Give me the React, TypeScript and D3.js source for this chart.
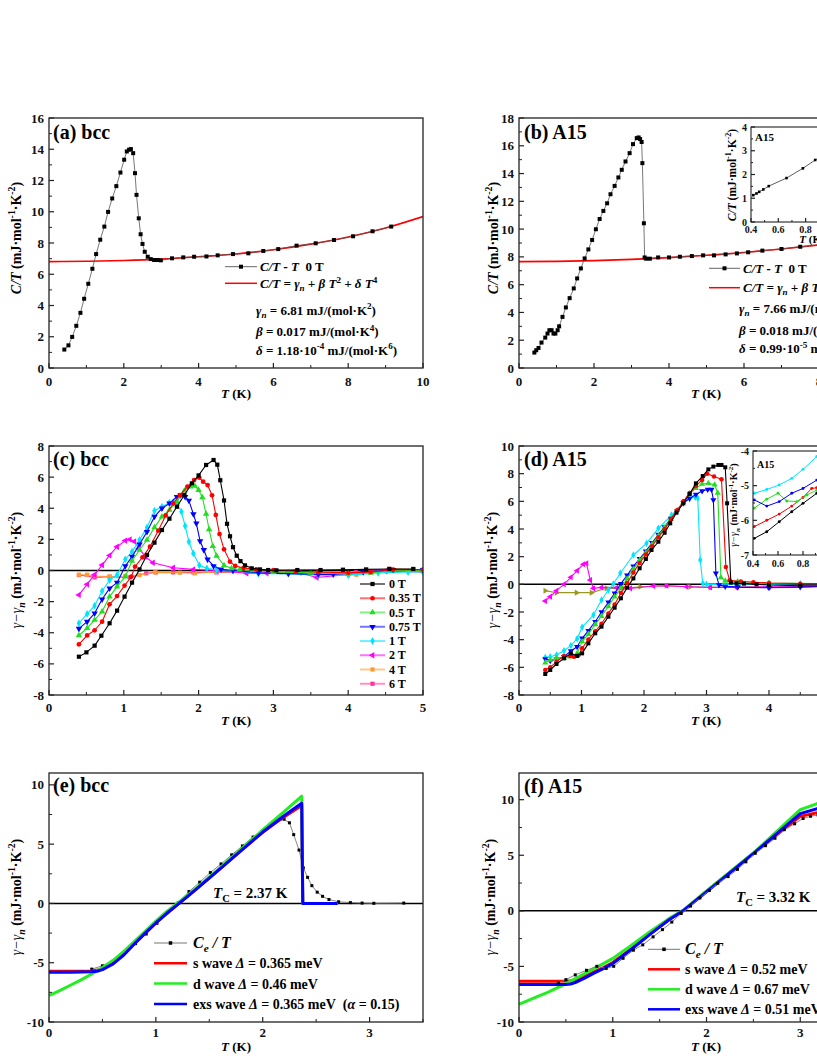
import React from 'react';
import * as d3 from 'd3';

type P = [number, number];

const FONT = '"Liberation Serif", "Times New Roman", serif';
const AX = '#222';

// (a) bcc : C/T vs T at 0 T
const bccCT: P[] = [[0.41,1.18],[0.52,1.45],[0.62,1.99],[0.73,2.70],[0.84,3.53],[0.94,4.43],[1.05,5.39],[1.16,6.35],[1.26,7.29],[1.37,8.21],[1.48,9.05],[1.58,9.99],[1.69,10.85],[1.80,11.64],[1.91,12.51],[2.01,13.33],[2.08,13.86],[2.14,13.97],[2.19,14.01],[2.25,13.75],[2.30,12.47],[2.34,11.08],[2.40,9.58],[2.45,8.56],[2.50,7.94],[2.56,7.44],[2.64,7.12],[2.72,6.97],[2.81,6.91],[2.90,6.91],[2.99,6.89],[3.29,7.02],[3.59,7.08],[3.88,7.12],[4.21,7.14],[4.51,7.21],[4.92,7.29],[5.33,7.34],[5.73,7.49],[6.13,7.61],[6.62,7.83],[7.13,7.98],[7.62,8.19],[8.13,8.43],[8.65,8.75],[9.15,9.05]];
const bccFit: P[] = [[0,6.81],[1,6.83],[2,6.88],[3,6.97],[4,7.12],[5,7.30],[6,7.57],[7,7.93],[8,8.38],[9,8.96],[10,9.69]];

// (b) A15 : C/T vs T at 0 T
const a15CT: P[] = [[0.41,1.11],[0.46,1.28],[0.52,1.44],[0.60,1.83],[0.70,2.19],[0.76,2.48],[0.81,2.72],[0.87,2.72],[0.92,2.48],[0.97,2.48],[1.03,2.72],[1.07,3.0],[1.16,3.68],[1.25,4.36],[1.35,5.03],[1.46,5.73],[1.55,6.45],[1.65,7.17],[1.75,7.89],[1.85,8.54],[1.95,9.22],[2.05,9.99],[2.15,10.73],[2.25,11.31],[2.35,11.86],[2.44,12.51],[2.55,13.11],[2.65,13.72],[2.74,14.27],[2.84,14.87],[2.95,15.47],[3.04,16.12],[3.14,16.55],[3.19,16.6],[3.23,16.48],[3.27,16.27],[3.29,14.75],[3.33,10.42],[3.35,7.96],[3.39,7.87],[3.49,7.87],[3.71,7.96],[4.0,7.96],[4.29,8.01],[4.61,8.06],[4.91,8.11],[5.2,8.11],[5.51,8.18],[5.81,8.25],[6.11,8.33],[6.49,8.45],[7.0,8.57],[7.5,8.73],[8.0,8.86]];
const a15Fit: P[] = [[0,7.66],[1,7.68],[2,7.73],[3,7.82],[4,7.95],[5,8.12],[6,8.32],[7,8.57],[8,8.86],[9,9.18],[10,9.56]];
const a15Inset: P[] = [[0.417,1.13],[0.44,1.2],[0.46,1.27],[0.49,1.37],[0.53,1.51],[0.66,1.85],[0.78,2.26],[0.87,2.61],[0.96,2.9],[1.05,3.2],[1.15,3.52]];

// (c) bcc : gamma - gamma_n in field
const fieldLabels = ['0 T', '0.35 T', '0.5 T', '0.75 T', '1 T', '2 T', '4 T', '6 T'];
const fieldColors = ['#000000', '#ff0000', '#22dd22', '#0000ff', '#00e5ff', '#ff00ff', '#ff9933', '#ff3399'];
const fieldShapes = ['square', 'circle', 'up', 'down', 'diamond', 'left', 'square', 'square'];
const bcc0T: P[] = [[0.40,-5.54],[0.50,-5.26],[0.61,-4.83],[0.70,-4.19],[0.81,-3.39],[0.91,-2.58],[1.01,-1.68],[1.11,-0.78],[1.21,0.07],[1.31,1.0],[1.41,1.79],[1.51,2.60],[1.61,3.33],[1.71,4.10],[1.81,4.85],[1.91,5.60],[2.00,6.11],[2.10,6.78],[2.20,7.10],[2.25,6.8],[2.29,5.8],[2.34,4.5],[2.38,3.0],[2.42,2.2],[2.46,1.5],[2.51,0.95],[2.56,0.6],[2.62,0.33],[2.71,0.14],[2.82,0.07],[2.93,0.03],[3.04,0.01],[3.32,0.03],[3.63,0.03],[3.93,0.05],[4.24,0.07],[4.55,0.10],[4.87,0.10]];
const bcc035T: P[] = [[0.40,-4.74],[0.51,-4.17],[0.61,-3.84],[0.71,-3.29],[0.81,-2.17],[0.91,-1.64],[1.01,-0.97],[1.10,-0.40],[1.15,0.25],[1.25,0.85],[1.35,1.53],[1.46,2.56],[1.56,3.54],[1.66,4.31],[1.75,4.85],[1.85,5.39],[1.94,5.81],[2.01,5.96],[2.06,5.71],[2.12,5.49],[2.18,4.83],[2.23,3.57],[2.28,2.34],[2.34,1.36],[2.42,0.57],[2.49,0.29],[2.60,0.16],[2.77,0.07],[3.0,0.03],[3.3,-0.05],[3.6,-0.1],[4.0,-0.15],[4.3,-0.1],[4.6,0.05],[5.0,0.05]];
const bcc05T: P[] = [[0.40,-4.17],[0.51,-3.71],[0.61,-3.18],[0.71,-2.64],[0.81,-1.68],[0.91,-1.04],[1.02,-0.40],[1.11,0.61],[1.21,1.32],[1.31,1.96],[1.41,2.77],[1.51,3.46],[1.61,3.89],[1.71,4.42],[1.81,5.13],[1.89,5.39],[1.95,5.43],[2.0,5.17],[2.05,4.70],[2.10,3.63],[2.14,2.64],[2.19,1.57],[2.24,0.93],[2.34,0.33],[2.44,0.14],[2.55,0.05],[2.73,0.01],[3.0,-0.1],[3.5,-0.15],[4.0,-0.2],[4.3,-0.15],[4.6,0.0],[5.0,0.0]];
const bcc075T: P[] = [[0.40,-3.74],[0.51,-3.29],[0.61,-2.75],[0.71,-1.85],[0.81,-1.15],[0.91,-0.78],[1.02,0.29],[1.11,0.89],[1.21,1.68],[1.31,2.49],[1.41,3.46],[1.51,3.99],[1.61,4.31],[1.71,4.74],[1.76,4.85],[1.82,4.74],[1.87,4.49],[1.93,3.63],[1.97,3.03],[2.02,1.89],[2.07,1.32],[2.12,0.71],[2.20,0.29],[2.30,0.07],[2.46,0.0],[2.8,-0.15],[3.2,-0.2],[3.6,-0.25],[3.8,-0.25],[4.2,-0.1],[4.6,0.05],[5.0,0.05]];
const bcc1T: P[] = [[0.40,-3.39],[0.51,-2.79],[0.61,-2.26],[0.71,-1.32],[0.81,-0.61],[0.91,-0.29],[1.02,0.72],[1.11,1.21],[1.21,1.96],[1.31,2.77],[1.41,3.84],[1.51,4.10],[1.61,4.36],[1.66,4.40],[1.72,4.21],[1.77,3.78],[1.82,2.86],[1.87,1.85],[1.93,1.10],[2.01,0.33],[2.11,0.14],[2.24,0.05],[2.46,0.0],[2.8,-0.2],[3.2,-0.2],[3.6,-0.3],[4.0,-0.3],[4.4,-0.15],[4.8,-0.1],[5.0,-0.1]];
const bcc2T: P[] = [[0.40,-1.57],[0.51,-0.89],[0.61,-0.27],[0.71,0.35],[0.81,0.97],[0.91,1.53],[1.02,1.92],[1.08,2.0],[1.14,1.87],[1.20,1.42],[1.29,0.89],[1.39,0.50],[1.66,0.18],[1.93,0.07],[2.24,0.0],[2.64,-0.18],[2.91,-0.18],[3.35,-0.14],[3.58,-0.45],[4.0,-0.25],[4.5,-0.05],[5.0,-0.1]];
const bcc4T: P[] = [[0.40,-0.27],[0.51,-0.27],[0.61,-0.35],[0.81,-0.39],[1.02,-0.35],[1.21,-0.29],[1.42,-0.12],[1.75,-0.14],[1.95,-0.18],[2.24,-0.1],[2.73,-0.1],[3.2,-0.12],[3.6,-0.15],[4.11,-0.27],[4.55,0.10],[4.87,0.07]];
const bcc6T: P[] = [[0.40,-0.29],[0.61,-0.44],[0.81,-0.40],[1.08,-0.44],[1.30,-0.18],[1.43,-0.12],[1.66,-0.12],[1.93,-0.12],[2.24,-0.12],[2.64,-0.1],[3.1,-0.1],[3.6,-0.1],[4.1,-0.1],[4.55,0.1],[4.87,0.05]];

// (d) A15 : gamma - gamma_n in field
const a15Colors = ['#000000', '#ff0000', '#22dd22', '#0000ff', '#00e5ff', '#ff00ff', '#999922'];
const a15Shapes = ['square', 'circle', 'up', 'down', 'diamond', 'left', 'right'];
const a150T: P[] = [[0.42,-6.48],[0.50,-6.19],[0.60,-5.76],[0.72,-5.35],[0.83,-4.99],[0.93,-5.18],[1.01,-4.99],[1.11,-4.27],[1.22,-3.54],[1.32,-3.06],[1.43,-2.34],[1.53,-1.69],[1.63,-1.01],[1.73,-0.24],[1.83,0.43],[1.93,1.16],[2.03,1.83],[2.12,2.48],[2.23,3.08],[2.33,3.73],[2.42,4.41],[2.52,5.18],[2.63,5.86],[2.73,6.53],[2.83,7.30],[2.94,7.83],[3.03,8.31],[3.11,8.51],[3.19,8.63],[3.24,8.63],[3.30,8.46],[3.33,5.86],[3.39,0.12],[3.48,0.07],[3.6,0.05],[3.8,0.0],[4.0,-0.05],[4.5,-0.1],[5.0,-0.1],[5.5,-0.1],[6.0,-0.1]];
const a15035T: P[] = [[0.42,-6.19],[0.50,-6.0],[0.60,-5.59],[0.72,-5.18],[0.82,-5.18],[0.88,-5.23],[0.95,-5.13],[1.01,-4.63],[1.11,-3.98],[1.22,-3.4],[1.32,-2.85],[1.43,-2.1],[1.53,-1.45],[1.63,-0.62],[1.73,0.1],[1.83,0.85],[1.93,1.55],[2.03,2.15],[2.13,2.75],[2.23,3.4],[2.33,4.0],[2.43,4.7],[2.53,5.35],[2.63,6.0],[2.73,6.6],[2.83,7.1],[2.93,7.55],[3.01,8.0],[3.12,7.8],[3.24,7.6],[3.31,1.25],[3.37,0.3],[3.55,0.2],[3.75,0.15],[4.0,0.1],[4.5,0.05],[5.0,0.05],[5.5,0.05],[6.0,0.05]];
const a1505T: P[] = [[0.42,-5.66],[0.50,-5.47],[0.60,-5.35],[0.72,-5.35],[0.83,-5.23],[0.93,-4.99],[1.01,-4.14],[1.11,-3.6],[1.22,-2.9],[1.32,-2.3],[1.43,-1.6],[1.53,-0.9],[1.63,-0.3],[1.73,0.4],[1.83,1.1],[1.93,1.75],[2.03,2.3],[2.13,2.9],[2.23,3.5],[2.33,4.1],[2.43,4.7],[2.53,5.35],[2.63,5.95],[2.73,6.55],[2.83,6.95],[2.93,7.25],[3.03,7.3],[3.13,7.2],[3.18,6.6],[3.23,0.5],[3.3,0.25],[3.5,0.2],[4.0,0.1],[5.0,0.05],[6.0,0.05]];
const a15075T: P[] = [[0.42,-5.4],[0.50,-5.52],[0.60,-5.42],[0.72,-5.23],[0.83,-4.82],[0.93,-4.51],[1.01,-3.9],[1.11,-3.35],[1.22,-2.7],[1.32,-2.0],[1.43,-1.3],[1.53,-0.65],[1.63,0.05],[1.73,0.65],[1.83,1.3],[1.93,1.85],[2.03,2.4],[2.13,3.0],[2.23,3.6],[2.33,4.15],[2.43,4.75],[2.53,5.3],[2.63,5.9],[2.73,6.2],[2.83,6.5],[2.93,6.75],[3.02,6.85],[3.08,6.85],[3.11,6.1],[3.15,0.8],[3.2,-0.05],[3.3,-0.15],[3.5,-0.2],[4.0,-0.25],[4.5,-0.2],[5.0,-0.15],[6.0,-0.1]];
const a151T: P[] = [[0.42,-5.28],[0.50,-5.23],[0.60,-5.11],[0.72,-4.8],[0.83,-4.43],[0.93,-3.93],[1.01,-3.1],[1.19,-2.22],[1.32,-1.13],[1.43,-0.41],[1.51,0.02],[1.62,0.8],[1.83,2.12],[2.04,2.96],[2.23,4.05],[2.44,5.01],[2.63,5.86],[2.73,6.22],[2.82,6.29],[2.86,6.22],[2.9,1.76],[2.94,0.07],[3.0,0.0],[3.5,0.0],[4.0,0.0],[4.5,0.05],[5.0,0.05],[6.0,0.05]];
const a152T: P[] = [[0.42,-1.2],[0.50,-0.89],[0.60,-0.46],[0.72,0.0],[0.83,0.51],[0.93,0.99],[1.03,1.45],[1.08,1.52],[1.14,0.31],[1.19,-0.29],[1.32,-0.22],[1.56,-0.24],[1.78,-0.29],[2.15,-0.12],[2.36,-0.1],[2.68,-0.17],[3.06,-0.22],[3.48,-0.22],[4.0,-0.17],[5.0,-0.15],[6.0,-0.1]];
const a154T: P[] = [[0.42,-0.46],[0.6,-0.6],[0.92,-0.6],[1.16,-0.6],[1.4,-0.29],[1.67,-0.29],[1.94,-0.17],[2.36,-0.1],[2.74,-0.17],[3.06,-0.22],[3.5,-0.2],[4.0,-0.2],[5.0,-0.15],[6.0,-0.1]];

// (d) inset, low T
const ins0T: P[] = [[0.41,-6.52],[0.51,-6.33],[0.61,-6.04],[0.71,-5.75],[0.8,-5.51],[0.91,-5.22],[1.0,-4.95]];
const ins035T: P[] = [[0.41,-6.18],[0.51,-6.0],[0.61,-5.82],[0.71,-5.59],[0.8,-5.34],[0.87,-5.08],[0.91,-5.06],[1.0,-4.95]];
const ins05T: P[] = [[0.41,-5.65],[0.51,-5.39],[0.6,-5.22],[0.67,-5.44],[0.75,-5.46],[0.83,-5.27],[0.91,-5.13],[1.0,-4.9]];
const ins075T: P[] = [[0.41,-5.41],[0.51,-5.59],[0.61,-5.46],[0.71,-5.22],[0.8,-5.08],[0.91,-4.84],[1.0,-4.6]];
const ins1T: P[] = [[0.41,-5.22],[0.51,-5.11],[0.61,-4.98],[0.71,-4.79],[0.8,-4.53],[0.91,-4.16],[1.0,-3.8]];

// (e) bcc gap fits
const bccS: P[] = [[0,-5.72],[0.2,-5.72],[0.4,-5.7],[0.5,-5.55],[0.6,-5.05],[0.7,-4.3],[0.8,-3.4],[0.9,-2.5],[1.0,-1.65],[1.1,-0.85],[1.2,-0.12],[1.3,0.62],[1.4,1.38],[1.6,2.92],[1.8,4.48],[2.0,6.0],[2.2,7.3],[2.365,8.25],[2.375,0],[2.7,0]];
const bccD: P[] = [[0,-7.75],[0.03,-7.65],[0.1,-7.35],[0.2,-6.9],[0.3,-6.45],[0.4,-5.95],[0.5,-5.4],[0.6,-4.8],[0.7,-4.05],[0.8,-3.2],[0.9,-2.35],[1.0,-1.5],[1.1,-0.7],[1.2,0.0],[1.3,0.72],[1.4,1.45],[1.6,3.0],[1.8,4.6],[2.0,6.2],[2.2,7.75],[2.365,9.05],[2.375,0],[2.7,0]];
const bccExs: P[] = [[0,-5.8],[0.2,-5.8],[0.4,-5.77],[0.45,-5.72],[0.5,-5.58],[0.6,-5.1],[0.7,-4.35],[0.8,-3.4],[0.9,-2.5],[1.0,-1.65],[1.1,-0.85],[1.2,-0.12],[1.3,0.62],[1.4,1.38],[1.6,2.92],[1.8,4.48],[2.0,6.02],[2.2,7.4],[2.365,8.45],[2.375,0],[2.7,0]];

// (f) A15 gap fits
const a15S: P[] = [[0,-6.33],[0.4,-6.33],[0.5,-6.32],[0.55,-6.28],[0.6,-6.2],[0.7,-5.9],[0.8,-5.5],[0.9,-5.1],[1.0,-4.65],[1.2,-3.4],[1.4,-2.05],[1.6,-0.8],[1.75,0],[2.0,1.75],[2.5,5.2],[3.0,8.5],[3.18,8.83],[3.32,9.3],[3.33,0],[3.7,0]];
const a15D: P[] = [[0,-8.4],[0.03,-8.3],[0.1,-8.05],[0.2,-7.7],[0.3,-7.35],[0.4,-6.95],[0.5,-6.55],[0.6,-6.1],[0.7,-5.65],[0.8,-5.2],[0.9,-4.75],[1.0,-4.28],[1.2,-3.1],[1.4,-1.85],[1.6,-0.7],[1.75,0.05],[2.0,1.8],[2.5,5.2],[3.0,9.1],[3.18,9.65],[3.32,10.4],[3.33,0],[3.7,0]];
const a15Exs: P[] = [[0,-6.63],[0.4,-6.63],[0.5,-6.62],[0.55,-6.58],[0.6,-6.45],[0.7,-6.05],[0.8,-5.6],[0.9,-5.2],[1.0,-4.75],[1.2,-3.45],[1.4,-2.1],[1.6,-0.8],[1.75,0],[2.0,1.7],[2.5,5.15],[3.0,8.75],[3.18,9.2],[3.32,9.9],[3.33,0],[3.7,0]];

const SYM: Record<string, [any, number]> = {
  square: [d3.symbolSquare, 0],
  circle: [d3.symbolCircle, 0],
  up: [d3.symbolTriangle, 0],
  down: [d3.symbolTriangle, 180],
  left: [d3.symbolTriangle, -90],
  right: [d3.symbolTriangle, 90],
  diamond: [d3.symbolDiamond, 0],
};

function Marker({ cx, cy, shape, size, color }: any) {
  const [type, rot] = SYM[shape];
  const d = d3.symbol(type, size * size)() as string;
  return <path d={d} transform={`translate(${cx},${cy}) rotate(${rot})`} fill={color} />;
}

function Series({ data, x, y, color, width = 1, shape, size = 4, lineColor, curve }: any) {
  const line = d3.line<P>().x(d => x(d[0])).y(d => y(d[1]));
  if (curve) line.curve(curve);
  return (
    <g>
      <path d={line(data) || ''} fill="none" stroke={lineColor || color} strokeWidth={width} strokeLinejoin="round" />
      {shape && data.map((d: P, i: number) => (
        <Marker key={i} cx={x(d[0])} cy={y(d[1])} shape={shape} size={size} color={color} />
      ))}
    </g>
  );
}

const minors = (lo: number, hi: number, step: number, majors: number[]) =>
  d3.range(lo, hi + 1e-9, step).filter(v => !majors.some(m => Math.abs(m - v) < 1e-6));

function Axes({ x, y, xt, xm, yt, ym, fs = 13, tl = 5, ml = 3, sw = 1.3, xGap = 18, yGap = 5, fmtX = String, fmtY = String, fill = 'none' }: any) {
  const [X0, X1] = x.range();
  const [Yb, Yt] = y.range();
  return (
    <g fontFamily={FONT} fontWeight="bold" fontSize={fs} fill="#111">
      {xm.map((v: number) => <line key={'xm' + v} x1={x(v)} x2={x(v)} y1={Yb} y2={Yb - ml} stroke={AX} strokeWidth={1} />)}
      {ym.map((v: number) => <line key={'ym' + v} x1={X0} x2={X0 + ml} y1={y(v)} y2={y(v)} stroke={AX} strokeWidth={1} />)}
      {xt.map((v: number) => (
        <g key={'xt' + v}>
          <line x1={x(v)} x2={x(v)} y1={Yb} y2={Yb - tl} stroke={AX} strokeWidth={1.2} />
          <text x={x(v)} y={Yb + xGap} textAnchor="middle">{fmtX(v)}</text>
        </g>
      ))}
      {yt.map((v: number) => (
        <g key={'yt' + v}>
          <line x1={X0} x2={X0 + tl} y1={y(v)} y2={y(v)} stroke={AX} strokeWidth={1.2} />
          <text x={X0 - yGap} y={y(v) + fs * 0.35} textAnchor="end">{fmtY(v)}</text>
        </g>
      ))}
      <rect x={X0} y={Yt} width={X1 - X0} height={Yb - Yt} fill={fill} stroke={AX} strokeWidth={sw} />
    </g>
  );
}

function Clip({ id, x, y }: any) {
  const [X0, X1] = x.range();
  const [Yb, Yt] = y.range();
  return (
    <clipPath id={id}>
      <rect x={X0} y={Yt} width={X1 - X0} height={Yb - Yt} />
    </clipPath>
  );
}

// rich text: each part is [text, flags]; flags: i italic, w normal weight, p superscript, b subscript
function Rich({ parts, fs }: any) {
  let off = 0;
  return (
    <>
      {parts.map(([t, k]: [string, string], i: number) => {
        const target = k.includes('p') ? -fs * 0.4 : k.includes('b') ? fs * 0.25 : 0;
        const dy = target - off;
        off = target;
        return (
          <tspan
            key={i}
            dy={dy !== 0 ? dy : undefined}
            fontSize={target !== 0 ? fs * 0.7 : undefined}
            fontStyle={k.includes('i') ? 'italic' : 'normal'}
            fontWeight={k.includes('w') ? 'normal' : undefined}
          >
            {t}
          </tspan>
        );
      })}
    </>
  );
}

const UNITS: [string, string][] = [['\u00a0(mJ\u00b7mol', ''], ['-1', 'p'], ['\u00b7K', ''], ['-2', 'p'], [')', '']];

function YLabel({ x, y, fs = 14, head }: any) {
  return (
    <text transform={`translate(${x},${y}) rotate(-90)`} textAnchor="middle" fontFamily={FONT} fontWeight="bold" fontSize={fs}>
      <Rich fs={fs} parts={[...head, ...UNITS]} />
    </text>
  );
}
const CT_HEAD: [string, string][] = [['C/T', 'i']];
const GAMMA_HEAD: [string, string][] = [['\u03b3\u2212\u03b3', 'iw'], ['n', 'ib']];

function TLabel({ x, y, fs = 13 }: any) {
  return (
    <text x={x} y={y} textAnchor="middle" fontFamily={FONT} fontWeight="bold" fontSize={fs}>
      <Rich fs={fs} parts={[['T', 'i'], ['\u00a0(K)', '']]} />
    </text>
  );
}

function Title({ x, y, children }: any) {
  return <text x={x} y={y} fontFamily={FONT} fontWeight="bold" fontSize={20}>{children}</text>;
}

function FitLegend({ x0, x1, tx, y, fit, fs = 13 }: any) {
  const [g, b, d] = fit;
  const T = (yy: number, xx: number, parts: [string, string][]) => (
    <text x={xx} y={yy + 4.5}>
      <Rich fs={fs} parts={parts} />
    </text>
  );
  return (
    <g fontFamily={FONT} fontWeight="bold" fontSize={fs}>
      <line x1={x0} x2={x1} y1={y[0]} y2={y[0]} stroke="#666" strokeWidth={1} />
      <Marker cx={(x0 + x1) / 2} cy={y[0]} shape="square" size={4} color="#000" />
      {T(y[0], tx, [['C/T - T', 'i'], ['\u00a0\u00a00 T', '']])}
      <line x1={x0} x2={x1} y1={y[1]} y2={y[1]} stroke="#ff0000" strokeWidth={1.5} />
      {T(y[1], tx, [['C/T = \u03b3', 'i'], ['n', 'ib'], ['\u00a0+ \u03b2 T', 'i'], ['2', 'p'], ['\u00a0+ \u03b4 T', 'i'], ['4', 'p']])}
      {T(y[2], tx - 4, [['\u03b3', 'i'], ['n', 'ib'], [` = ${g} mJ/(mol\u00b7K`, ''], ['2', 'p'], [')', '']])}
      {T(y[3], tx - 4, [['\u03b2', 'i'], [` = ${b} mJ/(mol\u00b7K`, ''], ['4', 'p'], [')', '']])}
      {T(y[4], tx - 4, [['\u03b4', 'i'], [` = ${d[0]}\u00b710`, ''], [d[1], 'p'], ['\u00a0mJ/(mol\u00b7K', ''], ['6', 'p'], [')', '']])}
    </g>
  );
}

function GapLegend({ x0, x1, tx, ys, gaps, alpha }: any) {
  const fs = 14;
  const cols = ['#ff0000', '#22ee22', '#0000ff'];
  const names = ['s wave ', 'd wave ', 'exs wave '];
  return (
    <g fontFamily={FONT} fontWeight="bold" fontSize={fs}>
      <line x1={x0} x2={x1} y1={ys[0]} y2={ys[0]} stroke="#777" strokeWidth={1} />
      <Marker cx={(x0 + x1) / 2} cy={ys[0]} shape="square" size={3.5} color="#000" />
      <text x={tx} y={ys[0] + 5} fontSize={16}>
        <Rich fs={16} parts={[['C', 'i'], ['e', 'ib'], ['\u00a0/ T', 'i']]} />
      </text>
      {names.map((n, i) => {
        const parts: [string, string][] = [[n, ''], ['\u0394', 'i'], [`\u00a0= ${gaps[i]} meV`, '']];
        if (i === 2 && alpha) parts.push(['\u00a0\u00a0(', ''], ['\u03b1', 'i'], [`\u00a0= ${alpha})`, '']);
        return (
          <g key={n}>
            <line x1={x0} x2={x1} y1={ys[i + 1]} y2={ys[i + 1]} stroke={cols[i]} strokeWidth={2.5} />
            <text x={tx} y={ys[i + 1] + 5}>
              <Rich fs={fs} parts={parts} />
            </text>
          </g>
        );
      })}
    </g>
  );
}

function TcLabel({ x, y, value }: any) {
  return (
    <text x={x} y={y} fontFamily={FONT} fontWeight="bold" fontSize={15}>
      <Rich fs={15} parts={[['T', 'i'], ['C', 'b'], [` = ${value} K`, '']]} />
    </text>
  );
}

export default function App() {
  const L: [number, number] = [49, 423];
  const R: [number, number] = [519, 894];
  const row1: [number, number] = [368, 118];
  const row2: [number, number] = [695, 446];
  const row3: [number, number] = [1022, 773];

  const xa = d3.scaleLinear().domain([0, 10]).range(L);
  const ya = d3.scaleLinear().domain([0, 16]).range(row1);
  const xb = d3.scaleLinear().domain([0, 10]).range(R);
  const yb = d3.scaleLinear().domain([0, 18]).range(row1);
  const xc = d3.scaleLinear().domain([0, 5]).range(L);
  const yc = d3.scaleLinear().domain([-8, 8]).range(row2);
  const xd = d3.scaleLinear().domain([0, 6]).range(R);
  const yd = d3.scaleLinear().domain([-8, 10]).range(row2);
  const xe = d3.scaleLinear().domain([0, 3.5]).range(L);
  const ye = d3.scaleLinear().domain([-10, 11]).range(row3);
  const xf = d3.scaleLinear().domain([0, 4]).range(R);
  const yf = d3.scaleLinear().domain([-10, 12.4]).range(row3);

  const xbi = d3.scaleLinear().domain([0.4, 1.3]).range([751, 873.9]);
  const ybi = d3.scaleLinear().domain([0, 4]).range([222, 127]);
  const xdi = d3.scaleLinear().domain([0.4, 1.0]).range([753, 828]);
  const ydi = d3.scaleLinear().domain([-7, -4]).range([555, 451]);

  const bccField = [bcc0T, bcc035T, bcc05T, bcc075T, bcc1T, bcc2T, bcc4T, bcc6T];
  const a15Field = [a150T, a15035T, a1505T, a15075T, a151T, a152T, a154T];
  const insField = [ins0T, ins035T, ins05T, ins075T, ins1T];

  const f1 = d3.format('.1f');

  return (
    <svg width={817} height={1058} style={{ position: 'absolute', left: 0, top: 0, background: '#fff' }} fontFamily={FONT}>
      <defs>
        <Clip id="ca" x={xa} y={ya} />
        <Clip id="cb" x={xb} y={yb} />
        <Clip id="cc" x={xc} y={yc} />
        <Clip id="cd" x={xd} y={yd} />
        <Clip id="ce" x={xe} y={ye} />
        <Clip id="cf" x={xf} y={yf} />
        <Clip id="cbi" x={xbi} y={ybi} />
        <Clip id="cdi" x={xdi} y={ydi} />
      </defs>
      <rect width={817} height={1058} fill="#fff" />

      {/* (a) */}
      <g clipPath="url(#ca)">
        <Series data={bccFit} x={xa} y={ya} color="#ff0000" width={1.6} curve={d3.curveMonotoneX} />
        <Series data={bccCT} x={xa} y={ya} color="#000" lineColor="#555" width={0.8} shape="square" size={4} />
      </g>
      <Axes x={xa} y={ya} xt={d3.range(0, 11, 2)} xm={minors(0, 10, 1, d3.range(0, 11, 2))} yt={d3.range(0, 17, 2)} ym={minors(0, 16, 1, d3.range(0, 17, 2))} />
      <Title x={53} y={139}>(a) bcc</Title>
      <YLabel x={21} y={238} head={CT_HEAD} />
      <TLabel x={236} y={398} />
      <FitLegend x0={225} x1={257} tx={260} y={[266.7, 283.3, 310, 331.7, 350]} fit={['6.81', '0.017', ['1.18', '-4']]} />

      {/* (b) */}
      <g clipPath="url(#cb)">
        <Series data={a15Fit} x={xb} y={yb} color="#ff0000" width={1.6} curve={d3.curveMonotoneX} />
        <Series data={a15CT} x={xb} y={yb} color="#000" lineColor="#555" width={0.8} shape="square" size={4} />
      </g>
      <Axes x={xb} y={yb} xt={d3.range(0, 11, 2)} xm={minors(0, 10, 1, d3.range(0, 11, 2))} yt={d3.range(0, 19, 2)} ym={minors(0, 18, 1, d3.range(0, 19, 2))} />
      <Title x={524} y={139}>(b) A15</Title>
      <YLabel x={498} y={238} head={CT_HEAD} />
      <TLabel x={706} y={398} />
      <FitLegend x0={709} x1={740} tx={743} y={[268.3, 287.7, 308.3, 330, 348.3]} fit={['7.66', '0.018', ['0.99', '-5']]} />
      {/* (b) inset */}
      <rect x={751} y={127} width={123} height={95} fill="#fff" />
      <g clipPath="url(#cbi)">
        <Series data={a15Inset} x={xbi} y={ybi} color="#000" lineColor="#333" width={0.8} shape="square" size={2.6} />
      </g>
      <Axes x={xbi} y={ybi} xt={[0.4, 0.6, 0.8, 1.0, 1.2]} xm={[0.5, 0.7, 0.9, 1.1]} yt={[0, 1, 2, 3, 4]} ym={[0.5, 1.5, 2.5, 3.5]} fs={10} tl={4} ml={2} sw={1.1} xGap={11} yGap={4} fmtX={f1} />
      <text x={755} y={141} fontFamily={FONT} fontWeight="bold" fontSize={11}>A15</text>
      <YLabel x={736} y={175} fs={11.5} head={CT_HEAD} />
      <TLabel x={812} y={243} fs={11} />

      {/* (c) */}
      <line x1={L[0]} x2={L[1]} y1={yc(0)} y2={yc(0)} stroke="#000" strokeWidth={1.5} />
      <g clipPath="url(#cc)">
        {bccField.slice().reverse().map((s, j) => {
          const i = bccField.length - 1 - j;
          return <Series key={i} data={s} x={xc} y={yc} color={fieldColors[i]} width={1.1} shape={fieldShapes[i]} size={4.2} />;
        })}
      </g>
      <Axes x={xc} y={yc} xGap={16.5} xt={d3.range(0, 6, 1)} xm={minors(0, 5, 0.5, d3.range(0, 6, 1))} yt={d3.range(-8, 9, 2)} ym={minors(-8, 8, 1, d3.range(-8, 9, 2))} />
      <Title x={53} y={466}>(c) bcc</Title>
      <YLabel x={21} y={570} head={GAMMA_HEAD} />
      <TLabel x={236} y={725} />
      <g fontFamily={FONT} fontWeight="bold" fontSize={12}>
        {fieldLabels.map((lab, i) => {
          const yy = 584 + i * 14.25;
          return (
            <g key={lab}>
              <line x1={360} x2={385} y1={yy} y2={yy} stroke={fieldColors[i]} strokeWidth={2} strokeOpacity={0.55} />
              <Marker cx={372.5} cy={yy} shape={fieldShapes[i]} size={4.2} color={fieldColors[i]} />
              <text x={389} y={yy + 4}>{lab}</text>
            </g>
          );
        })}
      </g>

      {/* (d) */}
      <line x1={R[0]} x2={R[1]} y1={yd(0)} y2={yd(0)} stroke="#000" strokeWidth={1.5} />
      <g clipPath="url(#cd)">
        {a15Field.slice().reverse().map((s, j) => {
          const i = a15Field.length - 1 - j;
          return <Series key={i} data={s} x={xd} y={yd} color={a15Colors[i]} width={1.1} shape={a15Shapes[i]} size={4} />;
        })}
      </g>
      <Axes x={xd} y={yd} xGap={16.5} xt={d3.range(0, 7, 1)} xm={minors(0, 6, 0.5, d3.range(0, 7, 1))} yt={d3.range(-8, 11, 2)} ym={minors(-8, 10, 1, d3.range(-8, 11, 2))} />
      <Title x={524} y={466}>(d) A15</Title>
      <YLabel x={497} y={570} head={GAMMA_HEAD} />
      <TLabel x={706} y={725} />
      {/* (d) inset */}
      <rect x={753} y={451} width={75} height={104} fill="#fff" />
      <g clipPath="url(#cdi)">
        {insField.map((s, i) => (
          <Series key={i} data={s} x={xdi} y={ydi} color={a15Colors[i]} width={1} shape="circle" size={2.6} />
        ))}
      </g>
      <Axes x={xdi} y={ydi} xt={[0.4, 0.6, 0.8, 1.0]} xm={[0.5, 0.7, 0.9]} yt={[-7, -6, -5, -4]} ym={[-6.5, -5.5, -4.5]} fs={10} tl={4} ml={2} sw={1.1} xGap={12} yGap={4} fmtX={f1} />
      <text x={757} y={468} fontFamily={FONT} fontWeight="bold" fontSize={10}>A15</text>
      <YLabel x={737} y={505} fs={10} head={GAMMA_HEAD} />

      {/* (e) */}
      <line x1={L[0]} x2={L[1]} y1={ye(0)} y2={ye(0)} stroke="#000" strokeWidth={1.5} />
      <g clipPath="url(#ce)">
        <Series data={bcc0T.filter(d => d[0] < 3.4)} x={xe} y={ye} color="#000" lineColor="#777" width={0.9} shape="square" size={3} />
        <Series data={bccS} x={xe} y={ye} color="#ff0000" width={3} />
        <Series data={bccD} x={xe} y={ye} color="#22ee22" width={3} />
        <Series data={bccExs} x={xe} y={ye} color="#0000ff" width={3} />
      </g>
      <Axes x={xe} y={ye} xGap={15} xt={[0, 1, 2, 3]} xm={[0.5, 1.5, 2.5, 3.5]} yt={[-10, -5, 0, 5, 10]} ym={[-7.5, -2.5, 2.5, 7.5]} />
      <Title x={53} y={792}>(e) bcc</Title>
      <YLabel x={21} y={897} head={GAMMA_HEAD} />
      <TLabel x={236} y={1051} />
      <TcLabel x={213} y={898} value="2.37" />
      <GapLegend x0={154} x1={187} tx={193} ys={[943, 963.3, 983.6, 1004]} gaps={['0.365', '0.46', '0.365']} alpha="0.15" />

      {/* (f) */}
      <line x1={R[0]} x2={R[1]} y1={yf(0)} y2={yf(0)} stroke="#000" strokeWidth={1.5} />
      <g clipPath="url(#cf)">
        <Series data={a15S} x={xf} y={yf} color="#ff0000" width={3} />
        <Series data={a15D} x={xf} y={yf} color="#22ee22" width={3} />
        <Series data={a15Exs} x={xf} y={yf} color="#0000ff" width={3} />
        <Series data={a150T} x={xf} y={yf} color="#000" lineColor="#777" width={0.9} shape="square" size={3} />
      </g>
      <Axes x={xf} y={yf} xGap={15} xt={[0, 1, 2, 3, 4]} xm={[0.5, 1.5, 2.5, 3.5]} yt={[-10, -5, 0, 5, 10]} ym={[-7.5, -2.5, 2.5, 7.5]} />
      <Title x={524} y={793}>(f) A15</Title>
      <YLabel x={495} y={897} head={GAMMA_HEAD} />
      <TLabel x={706} y={1051} />
      <TcLabel x={736} y={902} value="3.32" />
      <GapLegend x0={648} x1={680} tx={685} ys={[949.3, 969.3, 989.3, 1009.3]} gaps={['0.52', '0.67', '0.51']} alpha="0.15" />
    </svg>
  );
}
